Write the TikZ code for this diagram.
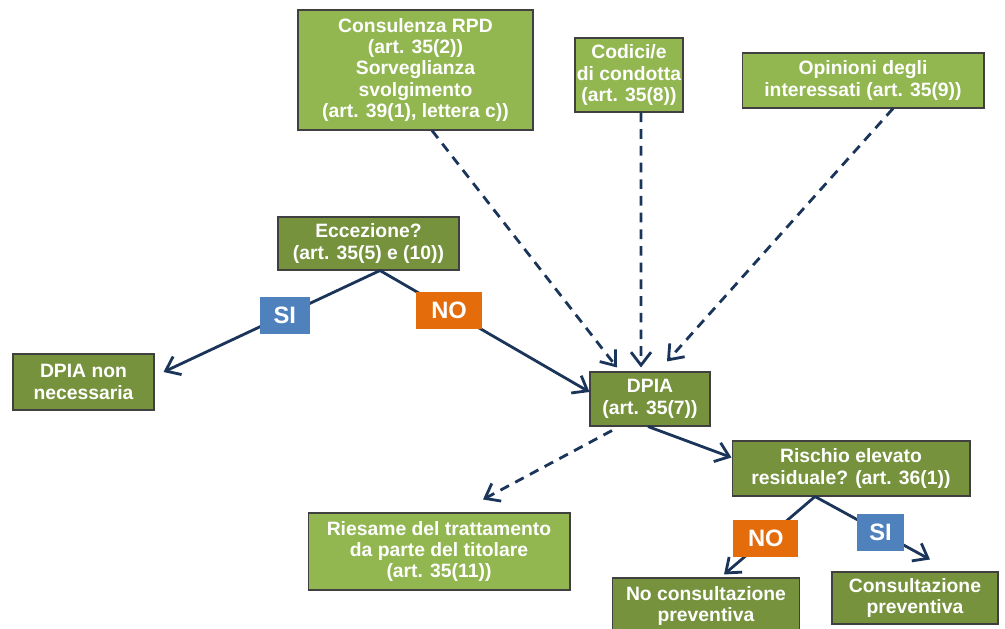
\documentclass[tikz,border=0pt]{standalone}
\usepackage{fontspec}
\setmainfont{Liberation Sans}
\usetikzlibrary{arrows.meta}
\definecolor{lightolive}{HTML}{92B650}
\definecolor{darkolive}{HTML}{76923C}
\definecolor{labelblue}{HTML}{4F81BD}
\definecolor{labelorange}{HTML}{E46C0A}
\definecolor{linenavy}{HTML}{1B355A}
\tikzset{
  box/.style={draw=black!75, line width=0.6pt, text=white, align=center,
    font=\bfseries\fontsize{11}{12.2}\selectfont, inner sep=1pt},
  lightbox/.style={box, fill=lightolive},
  darkbox/.style={box, fill=darkolive},
  tag/.style={text=white, font=\bfseries\fontsize{13.5}{15}\selectfont, inner sep=0pt,
    minimum height=0.74cm},
  flow/.style={draw=linenavy, line width=1.6pt, -{Straight Barb[length=2.6mm,width=4mm]}},
  hint/.style={flow, dash pattern=on 5.5pt off 4pt}
}
\begin{document}
\begin{tikzpicture}[x=0.02cm, y=-0.02cm]
  \useasboundingbox (0,0) rectangle (1005,629);
  % Inputs to the DPIA
  \node[lightbox, minimum width=4.7cm, minimum height=2.4cm] (rpd) at (415.5,70)
    {Consulenza RPD\\(art. 35(2))\\Sorveglianza\\svolgimento\\(art. 39(1), lettera c))};
  \node[lightbox, minimum width=2.16cm, minimum height=1.48cm] (codici) at (629,75)
    {Codici/e\\di condotta\\(art. 35(8))};
  \node[lightbox, minimum width=4.84cm, minimum height=1.1cm] (opinioni) at (863,80.5)
    {Opinioni degli\\interessati (art. 35(9))};
  % Decision boxes
  \node[darkbox, minimum width=3.62cm, minimum height=1.06cm] (eccezione) at (368.5,243.5)
    {Eccezione?\\(art. 35(5) e (10))};
  \node[darkbox, minimum width=2.82cm, minimum height=1.12cm] (nonnec) at (83.5,382)
    {DPIA non\\necessaria};
  \node[darkbox, minimum width=2.4cm, minimum height=1.08cm] (dpia) at (650,399)
    {DPIA\\(art. 35(7))};
  \node[darkbox, minimum width=4.76cm, minimum height=1.1cm] (rischio) at (851,468.5)
    {Rischio elevato\\residuale? (art. 36(1))};
  \node[lightbox, minimum width=5.24cm, minimum height=1.54cm] (riesame) at (439,551.5)
    {Riesame del trattamento\\da parte del titolare\\(art. 35(11))};
  \node[darkbox, minimum width=3.74cm, minimum height=1.12cm] (noconsult) at (706,606)
    {No consultazione\\preventiva};
  \node[darkbox, minimum width=3.32cm, minimum height=1.04cm] (consult) at (915,598)
    {Consultazione\\preventiva};
  % Dashed inputs
  \draw[hint] ([xshift=0.33cm]rpd.south) -- ([xshift=-0.66cm,yshift=0.08cm]dpia.north);
  \draw[hint] ([xshift=0.24cm]codici.south) -- ([xshift=-0.18cm,yshift=0.08cm]dpia.north);
  \draw[hint] ([xshift=0.6cm]opinioni.south) -- ([xshift=0.34cm,yshift=0.2cm]dpia.north);
  \draw[hint] ([xshift=-0.76cm,yshift=-0.08cm]dpia.south) -- ([xshift=0.88cm,yshift=0.26cm]riesame.north);
  % Solid flow
  \draw[flow] ([xshift=0.23cm]eccezione.south) -- ([xshift=0.18cm,yshift=0.2cm]nonnec.east)
    node[pos=0.44, tag, fill=labelblue, minimum width=1.0cm] (siA) {SI};
  \draw[flow] ([xshift=0.23cm]eccezione.south) -- ([yshift=0.14cm]dpia.west)
    node[pos=0.33, tag, fill=labelorange, minimum width=1.32cm] (noA) {NO};
  \draw[flow] ([xshift=-0.04cm]dpia.south) -- ([yshift=0.22cm]rischio.west);
  \draw[flow] ([xshift=-0.72cm]rischio.south) -- ([xshift=0.36cm,yshift=0.06cm]noconsult.north)
    node[pos=0.54, tag, fill=labelorange, minimum width=1.3cm] (noB) {NO};
  \draw[flow] ([xshift=-0.72cm]rischio.south) -- ([xshift=0.3cm,yshift=0.24cm]consult.north)
    node[pos=0.57, tag, fill=labelblue, minimum width=0.94cm] (siB) {SI};
\end{tikzpicture}
\end{document}
